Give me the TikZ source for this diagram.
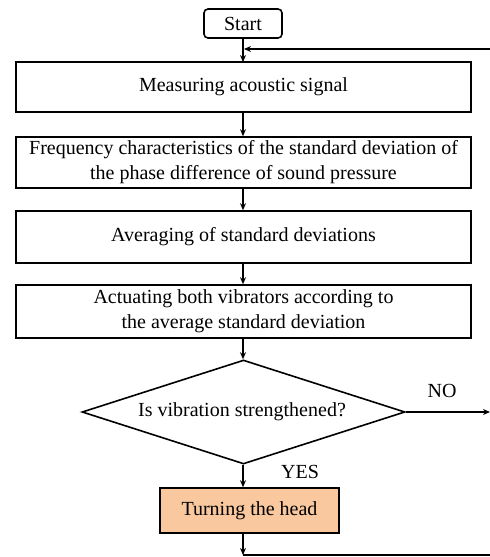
\documentclass[tikz,border=0pt]{standalone}
\usepackage{fontspec}
\setmainfont{Liberation Serif}
\usetikzlibrary{shapes.geometric,arrows.meta}
\definecolor{headfill}{HTML}{F9C89E}
\tikzset{
  txt/.style={font=\fontsize{20}{25}\selectfont},
  stepbox/.style={draw=black, line width=1.6pt, rectangle, inner sep=0pt, align=center, txt},
  startbox/.style={draw=black, line width=1.6pt, rectangle, rounded corners=4pt, inner sep=0pt, txt},
  decbox/.style={draw=black, line width=1.6pt, diamond, inner sep=0pt, txt},
  lbl/.style={txt, inner sep=0pt},
  conn/.style={line width=1.6pt, -{Stealth[length=7pt,width=6pt]}},
  plain/.style={line width=1.6pt}
}
\begin{document}
\begin{tikzpicture}[x=1pt,y=-1pt]
\useasboundingbox (0,0) rectangle (490,557);
\node[startbox, minimum width=78pt, minimum height=29pt] (start) at (243,23.5) {Start};
\node[stepbox, minimum width=455pt, minimum height=50pt] (b1) at (243.5,87) {Measuring acoustic signal};
\node[stepbox, minimum width=455pt, minimum height=51pt] (b2) at (243.5,162.5) {Frequency characteristics of the standard deviation of\\the phase difference of sound pressure};
\node[stepbox, minimum width=455pt, minimum height=52pt] (b3) at (243.5,237) {Averaging of standard deviations};
\node[stepbox, minimum width=455pt, minimum height=53pt] (b4) at (243.5,311.5) {Actuating both vibrators according to\\the average standard deviation};
\node[decbox, minimum width=323pt, minimum height=104pt] (dec) at (243.5,412) {};
\node[lbl] (dectext) at (242,412) {Is vibration strengthened?};
\node[stepbox, fill=headfill, minimum width=179pt, minimum height=45pt] (turn) at (249.5,510.5) {Turning the head};
\node[lbl] (no) at (442,391) {NO};
\node[lbl] (yes) at (300,472) {YES};
\coordinate (fbR) at (490,49);
\coordinate (fbL) at (244,49);
\coordinate (noR) at (490,412);
\coordinate (botL) at (243,555);
\coordinate (botR) at (490,555);
\draw[conn] (start.south -| 243,0) -- (243,62);
\draw[conn] (fbR) -- (fbL);
\draw[conn] (b1.south -| 243,0) -- (b2.north -| 243,0);
\draw[conn] (b2.south -| 243,0) -- (b3.north -| 243,0);
\draw[conn] (b3.south -| 243,0) -- (b4.north -| 243,0);
\draw[conn] (b4.south -| 243,0) -- (dec.north -| 243,0);
\draw[conn] (dec.east) -- (noR);
\draw[conn] (dec.south -| 243,0) -- (turn.north -| 243,0);
\draw[conn] (turn.south -| 243,0) -- (botL);
\draw[plain] (botL) -- (botR);
\end{tikzpicture}
\end{document}
